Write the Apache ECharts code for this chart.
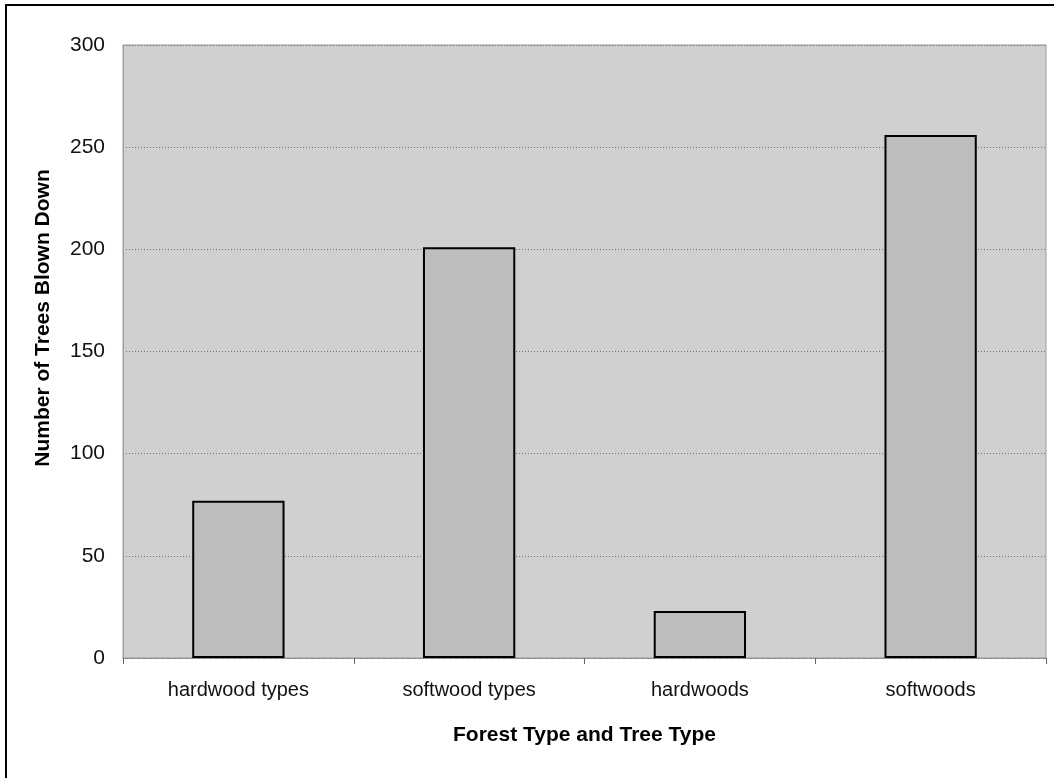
<!DOCTYPE html>
<html>
<head>
<meta charset="utf-8">
<script src="https://cdn.jsdelivr.net/npm/echarts@6/dist/echarts.min.js"></script>
<style>html,body{margin:0;padding:0;background:#fff}#c{width:1054px;height:778px}</style>
</head>
<body>
<div id="c"></div>
<script>
const categories = ["hardwood types", "softwood types", "hardwoods", "softwoods"];
const treesBlownDown = [77, 201, 23, 256];
const yTicks = [0, 50, 100, 150, 200, 250, 300];

const chart = echarts.init(document.getElementById('c'), null, {renderer: 'canvas'});
chart.setOption({
  animation: false,
  backgroundColor: '#ffffff',
  grid: {
    left: 123, top: 45, right: 8, bottom: 120,
    show: true,
    backgroundColor: '#d0d0d0',
    borderColor: '#9a9a9a',
    borderWidth: 1
  },
  xAxis: {
    type: 'category',
    data: categories,
    axisLine: {lineStyle: {color: '#8a8a8a', width: 1, type: 'dotted'}},
    axisTick: {show: true, length: 6, lineStyle: {color: '#666'}},
    axisLabel: {color: '#111', fontFamily: 'Liberation Sans, Arial', fontSize: 20, margin: 22},
    name: 'Forest Type and Tree Type',
    nameLocation: 'middle',
    nameGap: 67,
    nameTextStyle: {color: '#000', fontFamily: 'Liberation Sans, Arial', fontSize: 21, fontWeight: 'bold'}
  },
  yAxis: {
    type: 'value',
    min: yTicks[0],
    max: yTicks[yTicks.length - 1],
    interval: 50,
    axisLine: {show: true, lineStyle: {color: '#9a9a9a', type: 'dotted'}},
    axisTick: {show: false},
    axisLabel: {color: '#111', fontFamily: 'Liberation Sans, Arial', fontSize: 21, margin: 18},
    splitLine: {show: true, lineStyle: {color: '#6f6f6f', width: 1, type: [1, 2]}}
  },
  series: [{
    type: 'bar',
    data: treesBlownDown,
    barWidth: '40%',
    itemStyle: {color: '#bdbdbd', borderColor: '#000', borderWidth: 2}
  }],
  graphic: [
    {
      type: 'rect',
      shape: {x: 6, y: 5, width: 1200, height: 900},
      style: {fill: 'none', stroke: '#000', lineWidth: 2},
      silent: true
    },
    {
      type: 'text',
      x: 43, y: 318,
      rotation: Math.PI / 2,
      style: {
        text: 'Number of Trees Blown Down',
        fill: '#000',
        font: 'bold 21px "Liberation Sans", Arial',
        align: 'center',
        verticalAlign: 'middle'
      }
    }
  ]
});
</script>
</body>
</html>
